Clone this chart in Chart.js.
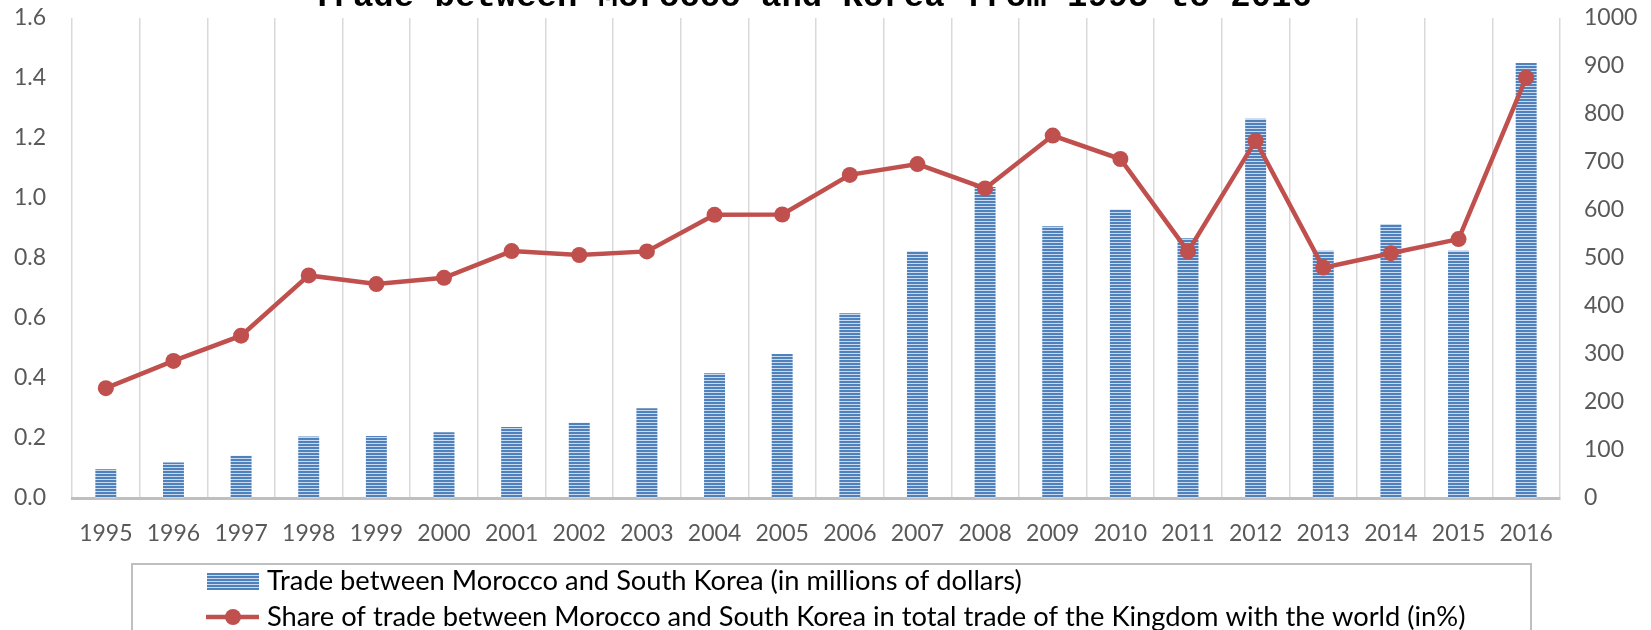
<!DOCTYPE html>
<html>
<head>
<meta charset="utf-8">
<script src="https://cdn.jsdelivr.net/npm/chart.js@4.4.1/dist/chart.umd.min.js"></script>
<style>
  html, body { margin: 0; padding: 0; background: #fff; }
  #wrap { width: 1651px; height: 630px; }
</style>
</head>
<body>
<div id="wrap"><canvas id="tradeChart" width="1651" height="630"></canvas></div>
<script>
const chartTitle = 'Trade between Morocco and Korea from 1995 to 2016';
const years = ['1995','1996','1997','1998','1999','2000','2001','2002','2003','2004','2005',
               '2006','2007','2008','2009','2010','2011','2012','2013','2014','2015','2016'];
// bars, right axis (millions of dollars)
const tradeMillions = [60, 74, 88, 128, 129, 137, 148, 157, 187, 260, 300,
                       385, 514, 648, 566, 601, 541, 790, 515, 571, 515, 906];
// line, left axis (% of the Kingdom's total trade)
const tradeSharePct = [0.366, 0.457, 0.541, 0.742, 0.713, 0.734, 0.823, 0.81, 0.822, 0.944, 0.945,
                       1.077, 1.113, 1.032, 1.208, 1.13, 0.822, 1.191, 0.768, 0.816, 0.863, 1.401];
const shareTickLabels = ['0.0','0.2','0.4','0.6','0.8','1.0','1.2','1.4','1.6'];
const tradeTickLabels = ['0','100','200','300','400','500','600','700','800','900','1000'];
const barLabel = 'Trade between Morocco and South Korea (in millions of dollars)';
const lineLabel = 'Share of trade between Morocco and South Korea in total trade of the Kingdom with the world (in%)';

const tickFont = { family: 'Lato, "Noto Sans", sans-serif', size: 23 };
const tickColor = '#595959';

function stripes() {
    const c = document.createElement('canvas');
    c.width = 4; c.height = 3;
    const g = c.getContext('2d');
    g.fillStyle = '#4F81BD';
    g.fillRect(0, 0, 4, 3);
    g.fillStyle = '#C9D9EE';
    g.fillRect(0, 2, 4, 1);
    return g.createPattern(c, 'repeat');
}
const barFill = stripes();

// title (cut off at the top like the source) and the boxed legend
const decor = {
    id: 'decor',
    afterDraw(chart) {
        const ctx = chart.ctx;
        ctx.save();
        ctx.fillStyle = '#000';
        ctx.font = 'bold 34px "Liberation Mono", monospace';
        ctx.textAlign = 'center';
        ctx.textBaseline = 'alphabetic';
        ctx.fillText(chartTitle, 812, 6);

        ctx.strokeStyle = '#BFBFBF';
        ctx.lineWidth = 2;
        ctx.strokeRect(132, 564, 1399, 100);

        ctx.fillStyle = barFill;
        ctx.fillRect(207, 573, 52, 17);

        ctx.strokeStyle = '#C0504D';
        ctx.lineWidth = 4.5;
        ctx.beginPath();
        ctx.moveTo(206, 617);
        ctx.lineTo(259, 617);
        ctx.stroke();
        ctx.fillStyle = '#C0504D';
        ctx.beginPath();
        ctx.arc(233, 617, 8, 0, Math.PI * 2);
        ctx.fill();

        ctx.fillStyle = '#000';
        ctx.font = '27.3px Lato, "Noto Sans", sans-serif';
        ctx.textAlign = 'left';
        ctx.textBaseline = 'middle';
        ctx.fillText(chart.data.datasets[0].label, 267, 581);
        ctx.fillText(chart.data.datasets[1].label, 267, 617);
        ctx.restore();
    }
};

new Chart(document.getElementById('tradeChart').getContext('2d'), {
    type: 'bar',
    data: {
        labels: years,
        datasets: [{
            label: barLabel,
            data: tradeMillions,
            yAxisID: 'y1',
            backgroundColor: barFill,
            borderWidth: 0,
            barPercentage: 0.31,
            categoryPercentage: 1,
            order: 2
        }, {
            type: 'line',
            label: lineLabel,
            data: tradeSharePct,
            yAxisID: 'y',
            borderColor: '#C0504D',
            backgroundColor: '#C0504D',
            borderWidth: 4.5,
            pointRadius: 8,
            pointHoverRadius: 8,
            pointBorderWidth: 0,
            tension: 0,
            fill: false,
            order: 1
        }]
    },
    options: {
        responsive: false,
        animation: false,
        layout: { padding: { top: 18, left: 0, right: 0, bottom: 0 } },
        plugins: {
            legend: { display: false },
            title: { display: false },
            tooltip: { enabled: false }
        },
        scales: {
            x: {
                grid: { color: '#D9D9D9', lineWidth: 1.5, drawTicks: false, offset: true },
                border: { color: '#BFBFBF', width: 3 },
                ticks: { font: tickFont, color: tickColor, padding: 22, maxRotation: 0, autoSkip: false },
                afterFit(scale) { scale.height = 132; }
            },
            y: {
                position: 'left',
                min: 0, max: 1.6,
                grid: { display: false, drawTicks: true, tickLength: 22 },
                border: { display: false },
                ticks: {
                    stepSize: 0.2, font: tickFont, color: tickColor, padding: 4,
                    callback: (v, i) => shareTickLabels[i]
                },
                afterFit(scale) { scale.width = 72; }
            },
            y1: {
                position: 'right',
                min: 0, max: 1000,
                grid: { display: false, drawTicks: true, tickLength: 20 },
                border: { display: false },
                ticks: {
                    stepSize: 100, font: tickFont, color: tickColor, padding: 4,
                    callback: (v, i) => tradeTickLabels[i]
                },
                afterFit(scale) { scale.width = 91; }
            }
        }
    },
    plugins: [decor]
});
</script>
</body>
</html>
